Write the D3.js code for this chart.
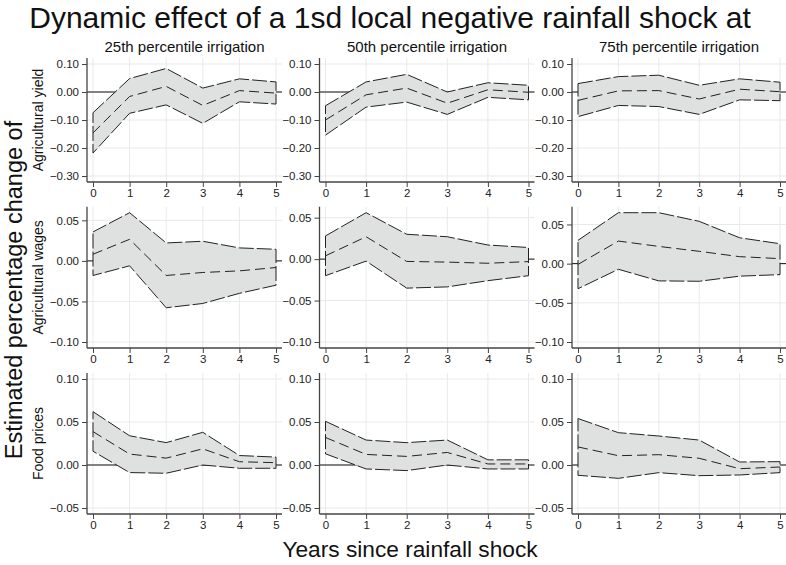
<!DOCTYPE html>
<html>
<head>
<meta charset="utf-8">
<script src="https://cdn.jsdelivr.net/npm/d3@7"></script>
<style>
  html, body { margin: 0; padding: 0; background: #fff; }
  svg { display: block; font-family: "Liberation Sans", Arial, Helvetica, sans-serif; }
</style>
</head>
<body>
<svg id="chart" width="786" height="565"></svg>
<script>
// ---------------- DATA ----------------
const years = [0, 1, 2, 3, 4, 5];
const colTitles = ["25th percentile irrigation", "50th percentile irrigation", "75th percentile irrigation"];
const rowTitles = ["Agricultural yield", "Agricultural wages", "Food prices"];
const yTicksYield = [0.10, 0.00, -0.10, -0.20, -0.30];
const yTicksWages = [0.05, 0.00, -0.05, -0.10];
const yTicksPrices = [0.10, 0.05, 0.00, -0.05];

// Agricultural yield
const yield25Hi  = [-0.074, 0.048, 0.084, 0.014, 0.047, 0.036];
const yield25Est = [-0.146, -0.016, 0.020, -0.048, 0.005, -0.004];
const yield25Lo  = [-0.218, -0.076, -0.046, -0.112, -0.035, -0.043];
const yield50Hi  = [-0.049, 0.036, 0.063, 0.000, 0.033, 0.024];
const yield50Est = [-0.100, -0.010, 0.014, -0.040, 0.008, -0.001];
const yield50Lo  = [-0.154, -0.054, -0.036, -0.080, -0.019, -0.028];
const yield75Hi  = [0.030, 0.055, 0.060, 0.024, 0.047, 0.035];
const yield75Est = [-0.030, 0.004, 0.005, -0.025, 0.010, 0.001];
const yield75Lo  = [-0.088, -0.048, -0.052, -0.080, -0.028, -0.031];

// Agricultural wages
const wages25Hi  = [0.0357, 0.0594, 0.0221, 0.0242, 0.0160, 0.0143];
const wages25Est = [0.0082, 0.0266, -0.0180, -0.0143, -0.0123, -0.0082];
const wages25Lo  = [-0.0180, -0.0061, -0.0578, -0.0525, -0.0400, -0.0300];
const wages50Hi  = [0.0280, 0.0560, 0.0300, 0.0270, 0.0170, 0.0140];
const wages50Est = [0.0040, 0.0270, -0.0028, -0.0036, -0.0050, -0.0030];
const wages50Lo  = [-0.0200, -0.0024, -0.0350, -0.0335, -0.0260, -0.0200];
const wages75Hi  = [0.0297, 0.0650, 0.0650, 0.0540, 0.0330, 0.0254];
const wages75Est = [-0.0010, 0.0288, 0.0220, 0.0157, 0.0089, 0.0064];
const wages75Lo  = [-0.0320, -0.0072, -0.0220, -0.0225, -0.0160, -0.0140];

// Food prices
const prices25Hi  = [0.0620, 0.0340, 0.0260, 0.0380, 0.0110, 0.0092];
const prices25Est = [0.0388, 0.0127, 0.0080, 0.0188, 0.0038, 0.0027];
const prices25Lo  = [0.0160, -0.0088, -0.0096, 0.0000, -0.0038, -0.0038];
const prices50Hi  = [0.0508, 0.0290, 0.0260, 0.0290, 0.0060, 0.0060];
const prices50Est = [0.0320, 0.0123, 0.0100, 0.0146, 0.0012, 0.0012];
const prices50Lo  = [0.0130, -0.0046, -0.0065, 0.0000, -0.0046, -0.0046];
const prices75Hi  = [0.0540, 0.0376, 0.0337, 0.0290, 0.0035, 0.0039];
const prices75Est = [0.0210, 0.0108, 0.0120, 0.0078, -0.0043, -0.0023];
const prices75Lo  = [-0.0120, -0.0155, -0.0089, -0.0124, -0.0116, -0.0089];

// Panel table built from the arrays above
const panels = [
  [ {hi: yield25Hi, est: yield25Est, lo: yield25Lo}, {hi: yield50Hi, est: yield50Est, lo: yield50Lo}, {hi: yield75Hi, est: yield75Est, lo: yield75Lo} ],
  [ {hi: wages25Hi, est: wages25Est, lo: wages25Lo}, {hi: wages50Hi, est: wages50Est, lo: wages50Lo}, {hi: wages75Hi, est: wages75Est, lo: wages75Lo} ],
  [ {hi: prices25Hi, est: prices25Est, lo: prices25Lo}, {hi: prices50Hi, est: prices50Est, lo: prices50Lo}, {hi: prices75Hi, est: prices75Est, lo: prices75Lo} ]
];
const rowTicks = [yTicksYield, yTicksWages, yTicksPrices];

// ---------------- LAYOUT ----------------
const colLeft = [87, 319.5, 572];
const colRight = [282, 534.5, 786];
const rowTop = [58, 206.7, 373];
const rowBottom = [182, 348, 514];
const pad = 6;

const svg = d3.select("#chart");
const axisColor = "#444";
const lineColor = "#222";
const gridColor = "#e9e9e9";
const fillColor = "#dfe0e0";
const fmt = d3.format(".2f");

// Titles
svg.append("text").attr("x", 390).attr("y", 28).attr("text-anchor", "middle")
  .attr("font-size", 30).attr("fill", "#111")
  .text("Dynamic effect of a 1sd local negative rainfall shock at");

svg.append("text").attr("transform", "translate(22,290) rotate(-90)")
  .attr("text-anchor", "middle").attr("font-size", 23.5).attr("fill", "#111")
  .text("Estimated percentage change of");

svg.append("text").attr("x", 410).attr("y", 557).attr("text-anchor", "middle")
  .attr("font-size", 22.7).attr("fill", "#111")
  .text("Years since rainfall shock");

colTitles.forEach((t, c) => {
  svg.append("text").attr("x", (colLeft[c] + colRight[c]) / 2).attr("y", 52)
    .attr("text-anchor", "middle").attr("font-size", 15).attr("fill", "#111").text(t);
});

rowTitles.forEach((t, r) => {
  svg.append("text").attr("transform", `translate(43,${(rowTop[r] + rowBottom[r]) / 2}) rotate(-90)`)
    .attr("text-anchor", "middle").attr("font-size", 14).attr("fill", "#111").text(t);
});

// Panels
for (let r = 0; r < 3; r++) {
  for (let c = 0; c < 3; c++) {
    const p = panels[r][c];
    const ticks = rowTicks[r];
    const dmin = Math.min(d3.min(ticks), d3.min(p.lo));
    const dmax = Math.max(d3.max(ticks), d3.max(p.hi));
    const x = d3.scaleLinear().domain([0, 5]).range([colLeft[c] + pad, colRight[c] - pad]);
    const y = d3.scaleLinear().domain([dmin, dmax]).range([rowBottom[r] - pad, rowTop[r] + pad]);
    const g = svg.append("g");

    // gridlines
    g.selectAll(".hg").data(ticks).join("line")
      .attr("x1", colLeft[c]).attr("x2", colRight[c])
      .attr("y1", d => y(d)).attr("y2", d => y(d))
      .attr("stroke", gridColor).attr("stroke-width", 1);
    g.selectAll(".vg").data(years).join("line")
      .attr("x1", d => x(d)).attr("x2", d => x(d))
      .attr("y1", rowTop[r]).attr("y2", rowBottom[r])
      .attr("stroke", gridColor).attr("stroke-width", 1);

    // zero reference line
    g.append("line").attr("x1", colLeft[c]).attr("x2", colRight[c])
      .attr("y1", y(0)).attr("y2", y(0)).attr("stroke", "#111").attr("stroke-width", 1);

    // confidence band
    const rows = years.map((t, i) => ({t, hi: p.hi[i], lo: p.lo[i], est: p.est[i]}));
    const area = d3.area().x(d => x(d.t)).y0(d => y(d.lo)).y1(d => y(d.hi));
    g.append("path").attr("d", area(rows) )
      .attr("fill", fillColor).attr("stroke", "none");
    // outline of band (closed, long dash)
    const outline = rows.map(d => [x(d.t), y(d.hi)]).concat(rows.slice().reverse().map(d => [x(d.t), y(d.lo)]));
    g.append("path").attr("d", d3.line()(outline) + "Z")
      .attr("fill", "none").attr("stroke", lineColor).attr("stroke-width", 1)
      .attr("stroke-dasharray", "15,3");

    // point estimate
    g.append("path").attr("d", d3.line().x(d => x(d.t)).y(d => y(d.est))(rows))
      .attr("fill", "none").attr("stroke", lineColor).attr("stroke-width", 1)
      .attr("stroke-dasharray", "10,5");

    // axes
    const ya = d3.axisLeft(y).tickValues(ticks).tickFormat(fmt).tickSize(5).tickPadding(3);
    const yg = g.append("g").attr("transform", `translate(${colLeft[c]},0)`).call(ya);
    yg.select(".domain").attr("d", `M0,${rowTop[r]}V${rowBottom[r]}`);
    const xa = d3.axisBottom(x).tickValues(years).tickFormat(d3.format("d")).tickSize(5).tickPadding(2);
    const xg = g.append("g").attr("transform", `translate(0,${rowBottom[r]})`).call(xa);
    xg.select(".domain").attr("d", `M${colLeft[c]},0H${colRight[c]}`);
    [yg, xg].forEach(a => {
      a.selectAll(".domain").attr("stroke", axisColor).attr("stroke-width", 1.3);
      a.selectAll(".tick line").attr("stroke", axisColor).attr("stroke-width", 1);
      a.selectAll(".tick text").attr("font-size", 11.5).attr("fill", "#222")
        .attr("font-family", "Liberation Sans, Arial, sans-serif");
    });
  }
}
</script>
</body>
</html>
